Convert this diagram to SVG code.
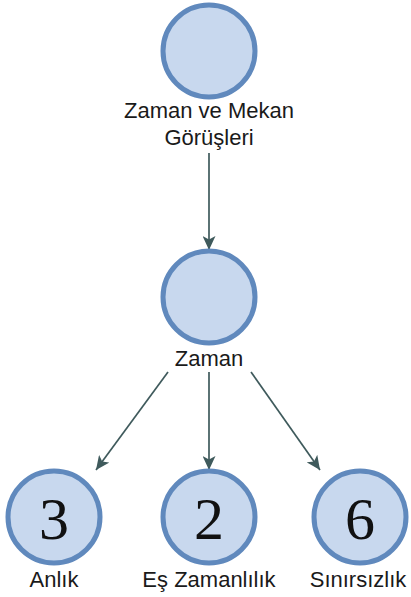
<svg xmlns="http://www.w3.org/2000/svg" width="411" height="597" viewBox="0 0 411 597">
<style>
.node{fill:#c8d8ee;stroke:#6089bd;stroke-width:5}
.lbl{font-family:"Liberation Sans",Arial,sans-serif;font-size:22px;fill:#1a1a1a;text-anchor:middle}
.num{font-family:"Liberation Serif","Times New Roman",serif;font-size:60px;fill:#111;text-anchor:middle}
.edge{stroke:#3f5a5c;stroke-width:1.7;fill:none;marker-end:url(#ah)}
</style>
<defs>
<marker id="ah" markerWidth="15" markerHeight="13" refX="14" refY="6.5" orient="auto" markerUnits="userSpaceOnUse">
<path d="M0,0 L14,6.5 L0,13 L3.5,6.5 Z" fill="#3f5a5c"/>
</marker>
</defs>
<rect width="411" height="597" fill="#ffffff"/>
<g id="connectors">
<line class="edge" x1="209" y1="153" x2="209" y2="250"/>
<line class="edge" x1="168" y1="372" x2="96" y2="470"/>
<line class="edge" x1="209" y1="372" x2="209" y2="470"/>
<line class="edge" x1="251" y1="372" x2="320" y2="470"/>
</g>
<g id="n-zaman-mekan">
<circle class="node" cx="209" cy="51" r="46"/>
<text class="lbl" x="209" y="118">Zaman ve Mekan</text>
<text class="lbl" x="209" y="145">Görüşleri</text>
</g>
<g id="n-zaman">
<circle class="node" cx="209" cy="297" r="46"/>
<text class="lbl" x="209" y="366">Zaman</text>
</g>
<g id="n-anlik">
<circle class="node" cx="54" cy="517" r="46"/>
<text class="num" x="54" y="539">3</text>
<text class="lbl" x="54" y="587">Anlık</text>
</g>
<g id="n-eszamanlilik">
<circle class="node" cx="209" cy="517" r="46"/>
<text class="num" x="209" y="539">2</text>
<text class="lbl" x="209" y="587">Eş Zamanlılık</text>
</g>
<g id="n-sinirsizlik">
<circle class="node" cx="360" cy="517" r="46"/>
<text class="num" x="360" y="539">6</text>
<text class="lbl" x="358" y="587">Sınırsızlık</text>
</g>
</svg>
